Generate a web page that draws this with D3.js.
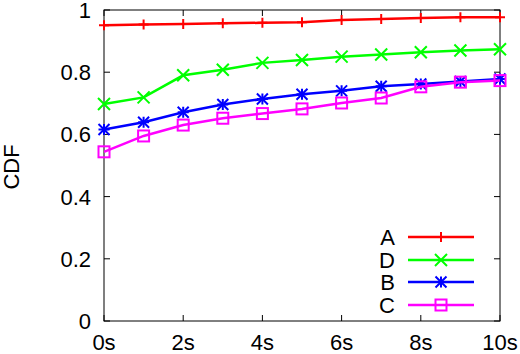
<!DOCTYPE html>
<html>
<head>
<meta charset="utf-8">
<script src="https://cdn.jsdelivr.net/npm/d3@7"></script>
<style>
  body { margin: 0; background: #fff; }
  svg { display: block; font-family: "Liberation Sans", Arial, sans-serif; }
</style>
</head>
<body>
<div id="vis"></div>
<script>
const width = 520
const height = 354
const margin = { top: 10, right: 20, bottom: 33, left: 104 }

// data
const xs = [0, 1, 2, 3, 4, 5, 6, 7, 8, 9, 10]
const xTicks = [0, 2, 4, 6, 8, 10]
const yTicks = [0, 0.2, 0.4, 0.6, 0.8, 1]
const seriesA = [0.951, 0.953, 0.955, 0.957, 0.959, 0.961, 0.968, 0.971, 0.974, 0.977, 0.977]
const seriesD = [0.698, 0.719, 0.790, 0.808, 0.830, 0.839, 0.850, 0.857, 0.864, 0.870, 0.874]
const seriesB = [0.616, 0.639, 0.671, 0.696, 0.714, 0.729, 0.740, 0.755, 0.762, 0.770, 0.778]
const seriesC = [0.544, 0.595, 0.630, 0.652, 0.667, 0.682, 0.701, 0.717, 0.753, 0.768, 0.773]

const series = [
  { name: "A", values: seriesA, color: "#ff0000", marker: "plus" },
  { name: "D", values: seriesD, color: "#00ff00", marker: "cross" },
  { name: "B", values: seriesB, color: "#0000ff", marker: "star" },
  { name: "C", values: seriesC, color: "#ff00ff", marker: "square" }
]

const x = d3.scaleLinear().domain([0, 10]).range([margin.left, width - margin.right])
const y = d3.scaleLinear().domain([0, 1]).range([height - margin.bottom, margin.top])

var svg = d3.select("#vis")
  .append("svg")
  .attr("width", width)
  .attr("height", height)

const x0 = x.range()[0], x1 = x.range()[1]
const y0 = y.range()[0], y1 = y.range()[1]
const tk = 6
const fs = "22px"

// ticks (mirrored, gnuplot style)
const ticks = svg.append("g").attr("stroke", "#000").attr("stroke-width", 1)
xTicks.forEach(t => {
  ticks.append("line").attr("x1", x(t)).attr("x2", x(t)).attr("y1", y0).attr("y2", y0 - tk)
  ticks.append("line").attr("x1", x(t)).attr("x2", x(t)).attr("y1", y1).attr("y2", y1 + tk)
})
yTicks.forEach(t => {
  ticks.append("line").attr("x1", x0).attr("x2", x0 + tk).attr("y1", y(t)).attr("y2", y(t))
  ticks.append("line").attr("x1", x1).attr("x2", x1 - tk).attr("y1", y(t)).attr("y2", y(t))
})

svg.append("rect")
  .attr("x", x0).attr("y", y1)
  .attr("width", x1 - x0).attr("height", y0 - y1)
  .attr("fill", "none").attr("stroke", "#000").attr("stroke-width", 1)

// tick labels
svg.append("g").selectAll("text").data(xTicks).join("text")
  .attr("x", d => x(d)).attr("y", 350)
  .attr("text-anchor", "middle")
  .attr("font-size", fs)
  .text(d => d + "s")

svg.append("g").selectAll("text").data(yTicks).join("text")
  .attr("x", 91).attr("y", d => y(d))
  .attr("dy", "0.36em")
  .attr("text-anchor", "end")
  .attr("font-size", fs)
  .text(d => d3.format("")(d))

svg.append("text")
  .attr("transform", "translate(18.5,167) rotate(-90)")
  .attr("text-anchor", "middle")
  .attr("font-size", fs)
  .text("CDF")

function drawMarker(g, type, cx, cy, color) {
  const s = type === "cross" ? 6 : type === "plus" ? 5 : 5.5
  const m = g.append("g").attr("transform", `translate(${cx},${cy})`)
    .attr("stroke", color).attr("stroke-width", 2).attr("fill", "none")
  if (type === "plus" || type === "star") {
    m.append("path").attr("d", `M${-s},0H${s}M0,${-s}V${s}`)
  }
  if (type === "cross" || type === "star") {
    m.append("path").attr("d", `M${-s},${-s}L${s},${s}M${-s},${s}L${s},${-s}`)
  }
  if (type === "square") {
    m.append("rect").attr("x", -s).attr("y", -s).attr("width", 2 * s).attr("height", 2 * s)
  }
}

const line = d3.line().x((d, i) => x(xs[i])).y(d => y(d))

series.forEach(s => {
  svg.append("path")
    .datum(s.values)
    .attr("d", line)
    .attr("fill", "none")
    .attr("stroke", s.color)
    .attr("stroke-width", 2.5)
  const g = svg.append("g")
  s.values.forEach((v, i) => drawMarker(g, s.marker, x(xs[i]), y(v), s.color))
})

// legend
const legendY = [237, 260, 282, 305]
series.forEach((s, i) => {
  svg.append("text")
    .attr("x", 395).attr("y", legendY[i])
    .attr("dy", "0.36em")
    .attr("text-anchor", "end")
    .attr("font-size", fs)
    .text(s.name)
  svg.append("line")
    .attr("x1", 408).attr("x2", 474)
    .attr("y1", legendY[i]).attr("y2", legendY[i])
    .attr("stroke", s.color).attr("stroke-width", 2.5)
  drawMarker(svg, s.marker, 441, legendY[i], s.color)
})
</script>
</body>
</html>
